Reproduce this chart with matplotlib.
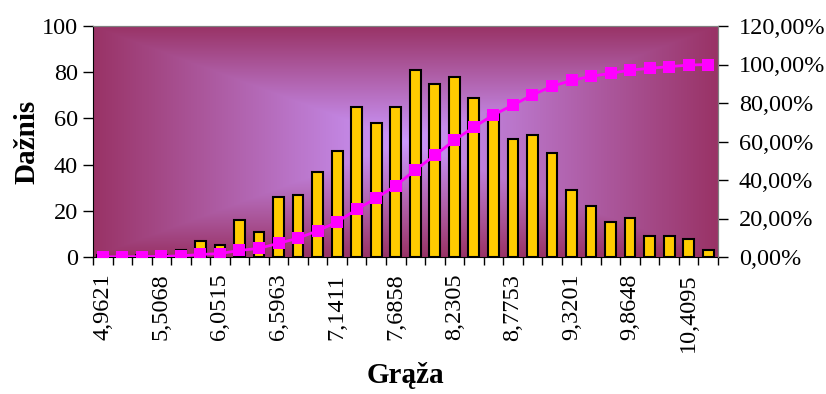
import numpy as np
import matplotlib
matplotlib.use('Agg')
import matplotlib.pyplot as plt
from matplotlib.colors import to_rgb
from matplotlib.ticker import FuncFormatter

plt.rcParams['font.family'] = ['Liberation Serif', 'DejaVu Serif']

# histogram counts per class (32 classes)
counts = [1, 0, 1, 1, 3, 7, 5, 16, 11, 26, 27, 37, 46, 65, 58, 65,
          81, 75, 78, 69, 62, 51, 53, 45, 29, 22, 15, 17, 9, 9, 8, 3]
# cumulative share, %
cum_pct = [0.1, 0.1, 0.2, 0.3, 0.6, 1.3, 1.8, 3.4, 4.5, 7.1, 9.8, 13.6,
           18.2, 24.7, 30.6, 37.1, 45.2, 52.8, 60.6, 67.5, 73.8, 78.9,
           84.2, 88.7, 91.7, 93.9, 95.4, 97.1, 98.0, 98.9, 99.7, 100.0]
# class labels shown on the axis (every third class)
tick_labels = ['4,9621', '5,5068', '6,0515', '6,5963', '7,1411', '7,6858',
               '8,2305', '8,7753', '9,3201', '9,8648', '10,4095']

n = len(counts)
x = np.arange(n)

fig = plt.figure(figsize=(8.26, 3.94), dpi=100)
ax = fig.add_axes([93/826, 1 - 257/394, 625/826, 231/394])

# rectangular "from center" gradient like Excel
edge = np.array(to_rgb('#993366'))
center = np.array(to_rgb('#CC99FF'))
u = np.linspace(-1, 1, 625)
v = np.linspace(-1, 1, 231)
U, V = np.meshgrid(u, v)
t = np.maximum(np.abs(U), np.abs(V))
img = center + (edge - center) * t[..., None]
ax.imshow(img, extent=[-0.5, n - 0.5, 0, 100], aspect='auto', zorder=0)

ax.bar(x, counts, width=0.55, color='#FFCC00', edgecolor='black',
       linewidth=1.5, zorder=2)
ax.set_xlim(-0.5, n - 0.5)
ax.set_ylim(0, 100)
ax.set_yticks(np.arange(0, 101, 20))
ax.tick_params(axis='y', direction='out', length=7, width=1, labelsize=17.5, pad=4)

ax.set_xticks(x[::3])
ax.set_xticklabels(tick_labels, rotation=90, fontsize=17.5)
ax.set_xticks(np.arange(n + 1) - 0.5, minor=True)
ax.tick_params(axis='x', which='major', length=0, pad=12)
ax.tick_params(axis='x', which='minor', direction='out', length=6, width=1)

ax.spines['top'].set_color('#808080')
ax.spines['right'].set_color('#808080')

ax.set_ylabel('Dažnis', fontsize=21, fontweight='bold', labelpad=1)
ax.set_xlabel('Grąža', fontsize=21, fontweight='bold', labelpad=7)

ax2 = ax.twinx()
ax2.plot(x, cum_pct, color='#FF00FF', linewidth=2, marker='s',
         markersize=9, markeredgewidth=0, zorder=3)
ax2.set_ylim(0, 120)
ax2.set_yticks(np.arange(0, 121, 20))
ax2.yaxis.set_major_formatter(FuncFormatter(lambda val, pos: f'{val:.2f}%'.replace('.', ',')))
ax2.tick_params(axis='y', direction='out', length=7, width=1, labelsize=17.5, pad=8)
ax2.spines['top'].set_color('#808080')
ax2.spines['right'].set_color('#808080')
ax2.spines['left'].set_visible(False)
ax2.spines['bottom'].set_visible(False)

fig.savefig('out.png', dpi=100)
